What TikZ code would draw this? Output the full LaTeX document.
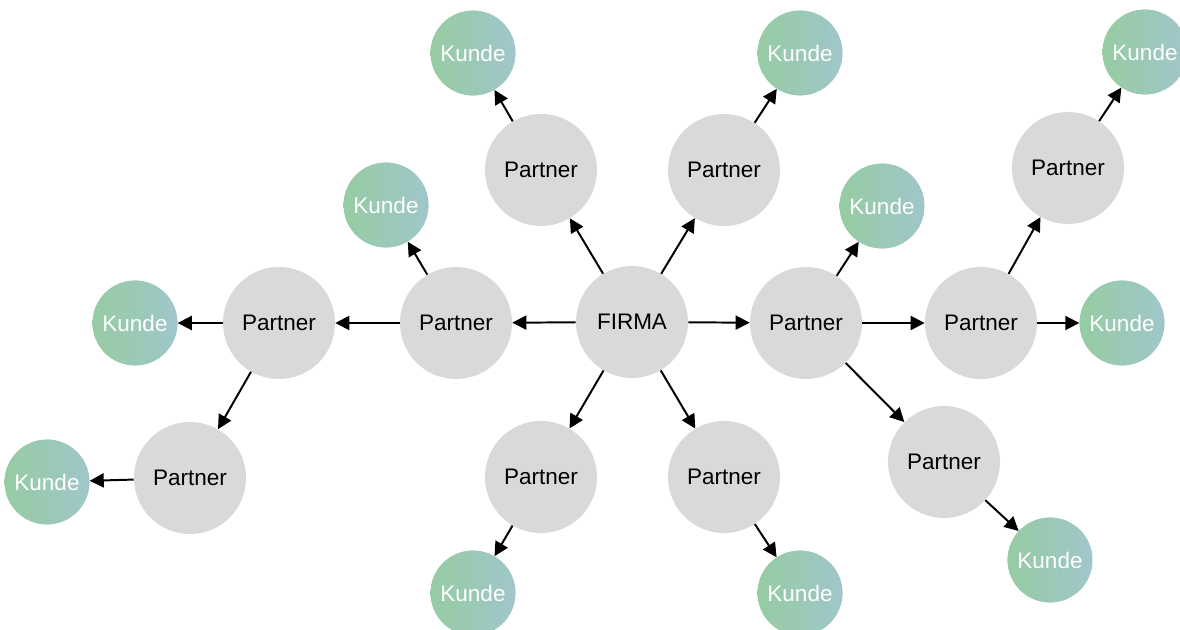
\documentclass[tikz,border=0pt]{standalone}
\usepackage{fontspec}
\setmainfont{Liberation Sans}
\usetikzlibrary{arrows.meta}

\definecolor{partnergray}{HTML}{D9D9D9}
\definecolor{kundeL}{HTML}{96CCA2}
\definecolor{kundeR}{HTML}{A0C6CB}
\colorlet{kundeM}{kundeL!50!kundeR}

\begin{document}
\begin{tikzpicture}[x=0.025cm, y=-0.025cm]
        \useasboundingbox (0,0) rectangle (1180,630);

        \begin{scope}[every node/.style={circle, inner sep=0pt, align=center, font=\fontsize{16}{19}\selectfont}]
            \node[fill=partnergray, minimum size=2.8cm] (F) at (632, 322) {FIRMA};

            \node[fill=partnergray, minimum size=2.8cm] (P1) at (541, 170) {Partner};
            \node[fill=partnergray, minimum size=2.8cm] (P2) at (724, 170) {Partner};
            \node[fill=partnergray, minimum size=2.8cm] (P3) at (456, 323) {Partner};
            \node[fill=partnergray, minimum size=2.8cm] (P4) at (279, 323) {Partner};
            \node[fill=partnergray, minimum size=2.8cm] (P5) at (190, 478) {Partner};
            \node[fill=partnergray, minimum size=2.8cm] (P6) at (541, 477) {Partner};
            \node[fill=partnergray, minimum size=2.8cm] (P7) at (724, 477) {Partner};
            \node[fill=partnergray, minimum size=2.8cm] (P8) at (806, 323) {Partner};
            \node[fill=partnergray, minimum size=2.8cm] (P9) at (981, 323) {Partner};
            \node[fill=partnergray, minimum size=2.8cm] (P10) at (1068, 168) {Partner};
            \node[fill=partnergray, minimum size=2.8cm] (P11) at (944, 462) {Partner};

            \begin{scope}[every node/.append style={preaction={fill=kundeM}, left color=kundeL, right color=kundeR, text=white, minimum size=2.12cm}]
            \node (K1) at (473, 53) {Kunde};
            \node (K2) at (800, 53) {Kunde};
            \node (K3) at (386, 205) {Kunde};
            \node (K4) at (135, 323) {Kunde};
            \node (K5) at (47, 482) {Kunde};
            \node (K6) at (473, 593) {Kunde};
            \node (K7) at (800, 593) {Kunde};
            \node (K8) at (882, 206) {Kunde};
            \node (K9) at (1122, 323) {Kunde};
            \node (K10) at (1145, 52) {Kunde};
            \node (K11) at (1050, 560) {Kunde};
            \end{scope}
        \end{scope}

        \begin{scope}[every edge/.style={draw=black, line width=1.4pt}]
            \path [-{Triangle[length=10pt, width=10pt]}] (F) edge (P1);
            \path [-{Triangle[length=10pt, width=10pt]}] (F) edge (P2);
            \path [-{Triangle[length=10pt, width=10pt]}] (F) edge (P3);
            \path [-{Triangle[length=10pt, width=10pt]}] (F) edge (P6);
            \path [-{Triangle[length=10pt, width=10pt]}] (F) edge (P7);
            \path [-{Triangle[length=10pt, width=10pt]}] (F) edge (P8);

            \path [-{Triangle[length=10pt, width=10pt]}] (P3) edge (P4);
            \path [-{Triangle[length=10pt, width=10pt]}] (P4) edge (P5);
            \path [-{Triangle[length=10pt, width=10pt]}] (P8) edge (P9);
            \path [-{Triangle[length=10pt, width=10pt]}] (P8) edge (P11);
            \path [-{Triangle[length=10pt, width=10pt]}] (P9) edge (P10);

            \path [-{Triangle[length=10pt, width=10pt]}] (P1) edge (K1);
            \path [-{Triangle[length=10pt, width=10pt]}] (P2) edge (K2);
            \path [-{Triangle[length=10pt, width=10pt]}] (P3) edge (K3);
            \path [-{Triangle[length=10pt, width=10pt]}] (P4) edge (K4);
            \path [-{Triangle[length=10pt, width=10pt]}] (P5) edge (K5);
            \path [-{Triangle[length=10pt, width=10pt]}] (P6) edge (K6);
            \path [-{Triangle[length=10pt, width=10pt]}] (P7) edge (K7);
            \path [-{Triangle[length=10pt, width=10pt]}] (P8) edge (K8);
            \path [-{Triangle[length=10pt, width=10pt]}] (P9) edge (K9);
            \path [-{Triangle[length=10pt, width=10pt]}] (P10) edge (K10);
            \path [-{Triangle[length=10pt, width=10pt]}] (P11) edge (K11);
        \end{scope}
    \end{tikzpicture}
\end{document}
